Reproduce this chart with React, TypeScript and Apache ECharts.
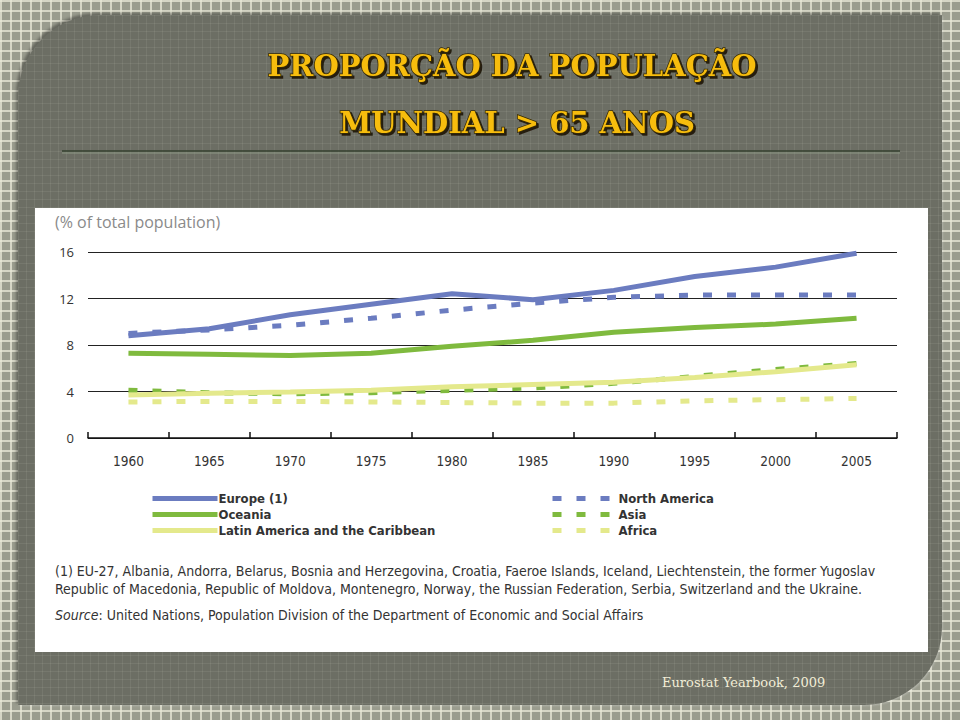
import React, { useEffect, useRef } from "react";
import * as echarts from "echarts";

const years = ["1960", "1965", "1970", "1975", "1980", "1985", "1990", "1995", "2000", "2005"];
const europe = [8.8, 9.4, 10.6, 11.5, 12.4, 11.9, 12.7, 13.9, 14.7, 15.9];
const northAmerica = [9.0, 9.3, 9.7, 10.3, 11.0, 11.6, 12.1, 12.3, 12.3, 12.3];
const oceania = [7.3, 7.2, 7.1, 7.3, 7.9, 8.4, 9.1, 9.5, 9.8, 10.3];
const asia = [4.1, 3.9, 3.8, 3.9, 4.1, 4.3, 4.7, 5.3, 5.9, 6.4];
const latinAmerica = [3.7, 3.85, 3.95, 4.1, 4.4, 4.6, 4.8, 5.2, 5.7, 6.3];
const africa = [3.1, 3.15, 3.15, 3.1, 3.05, 3.0, 3.0, 3.2, 3.3, 3.4];

const BLUE = "#6b7cc0";
const GREEN = "#7fba3e";
const YELLOW = "#e4e98c";
const NARROW = "'Liberation Sans Narrow', 'DejaVu Sans Condensed', 'DejaVu Sans', sans-serif";
const DASH = [9, 15];

export default function App() {
  const ref = useRef<HTMLDivElement>(null);
  useEffect(() => {
    if (!ref.current) return;
    const chart = echarts.init(ref.current, null, { renderer: "svg" });
    const line = (name: string, data: number[], color: string, dashed: boolean) => ({
      name,
      type: "line",
      data,
      symbol: "none",
      smooth: false,
      lineStyle: { color, width: 5, type: dashed ? DASH : "solid", cap: "butt" },
      itemStyle: { color },
    });
    const legendBase = {
      orient: "vertical",
      top: 492,
      itemWidth: 65,
      itemHeight: 13,
      itemGap: 3,
      padding: 0,
      itemStyle: { opacity: 0, borderWidth: 0 },
      lineStyle: { width: 5 },
      textStyle: { color: "#333", fontSize: 13, fontWeight: "bold", fontFamily: NARROW, padding: [0, 0, 0, -4] },
    };
    chart.setOption({
      animation: false,
      backgroundColor: "transparent",
      grid: { left: 88, right: 63, top: 252, bottom: 282 },
      xAxis: {
        type: "category",
        data: years,
        boundaryGap: true,
        axisLine: { lineStyle: { color: "#111", width: 1.5 } },
        axisTick: { show: true, inside: true, length: 6, lineStyle: { color: "#111", width: 1.5 } },
        axisLabel: { color: "#333", fontSize: 13.5, margin: 16, fontFamily: NARROW },
      },
      yAxis: {
        type: "value",
        min: 0,
        max: 16,
        interval: 4,
        axisLine: { show: false },
        axisTick: { show: false },
        axisLabel: { color: "#333", fontSize: 13, margin: 14, fontFamily: "'Open Sans', sans-serif" },
        splitLine: { lineStyle: { color: "#222", width: 1.2 } },
      },
      legend: [
        { ...legendBase, left: 150, data: ["Europe (1)", "Oceania", "Latin America and the Caribbean"] },
        { ...legendBase, left: 550, data: ["North America", "Asia", "Africa"] },
      ],
      series: [
        line("Africa", africa, YELLOW, true),
        line("Asia", asia, GREEN, true),
        line("Latin America and the Caribbean", latinAmerica, YELLOW, false),
        line("Oceania", oceania, GREEN, false),
        line("Europe (1)", europe, BLUE, false),
        line("North America", northAmerica, BLUE, true),
      ],
      graphic: [
        {
          type: "rect",
          z: -10,
          shape: { x: 35, y: 208, width: 893, height: 444 },
          style: { fill: "#ffffff" },
        },
        {
          type: "line",
          shape: { x1: 62, y1: 151, x2: 900, y2: 151 },
          style: { stroke: "#34402f", lineWidth: 1.5 },
        },
        {
          type: "line",
          shape: { x1: 62, y1: 153, x2: 900, y2: 153 },
          style: { stroke: "#8c9884", lineWidth: 1 },
        },
        {
          type: "text",
          x: 512,
          y: 66,
          style: {
            text: "PROPORÇÃO DA POPULAÇÃO",
            align: "center",
            verticalAlign: "middle",
            fontFamily: "'DejaVu Serif', serif",
            fontWeight: "bold",
            fontSize: 29,
            fill: "#f7bd0a",
            stroke: "#3a2c05",
            lineWidth: 1.5,
            textShadowColor: "rgba(20,15,0,0.85)",
            textShadowOffsetX: 2,
            textShadowOffsetY: 2,
            textShadowBlur: 1,
          },
        },
        {
          type: "text",
          x: 517,
          y: 123,
          style: {
            text: "MUNDIAL > 65 ANOS",
            align: "center",
            verticalAlign: "middle",
            fontFamily: "'DejaVu Serif', serif",
            fontWeight: "bold",
            fontSize: 29,
            fill: "#f7bd0a",
            stroke: "#3a2c05",
            lineWidth: 1.5,
            textShadowColor: "rgba(20,15,0,0.85)",
            textShadowOffsetX: 2,
            textShadowOffsetY: 2,
            textShadowBlur: 1,
          },
        },
        {
          type: "text",
          x: 55,
          y: 222,
          style: {
            text: "(% of total population)",
            verticalAlign: "middle",
            fontFamily: "'Open Sans', sans-serif",
            fontSize: 16,
            fill: "#8a8a8a",
          },
        },
        {
          type: "text",
          x: 55,
          y: 571,
          style: {
            text: "(1) EU-27, Albania, Andorra, Belarus, Bosnia and Herzegovina, Croatia, Faeroe Islands, Iceland, Liechtenstein, the former Yugoslav",
            verticalAlign: "middle",
            fontFamily: NARROW,
            fontSize: 14,
            fill: "#333",
          },
        },
        {
          type: "text",
          x: 55,
          y: 589,
          style: {
            text: "Republic of Macedonia, Republic of Moldova, Montenegro, Norway, the Russian Federation, Serbia, Switzerland and the Ukraine.",
            verticalAlign: "middle",
            fontFamily: NARROW,
            fontSize: 14,
            fill: "#333",
          },
        },
        {
          type: "text",
          x: 55,
          y: 615,
          style: {
            text: "{i|Source}: United Nations, Population Division of the Department of Economic and Social Affairs",
            verticalAlign: "middle",
            fontFamily: NARROW,
            fontSize: 14,
            fill: "#333",
            rich: { i: { fontStyle: "italic", fontFamily: NARROW, fontSize: 14, fill: "#333" } },
          },
        },
        {
          type: "text",
          x: 662,
          y: 682,
          style: {
            text: "Eurostat Yearbook, 2009",
            verticalAlign: "middle",
            fontFamily: "'DejaVu Serif', serif",
            fontSize: 13,
            fill: "#f1edd6",
            textShadowColor: "rgba(0,0,0,0.9)",
            textShadowOffsetX: 1,
            textShadowOffsetY: 1,
          },
        },
      ],
    });
    return () => chart.dispose();
  }, []);

  const outer: React.CSSProperties = {
    position: "absolute",
    left: 0,
    top: 0,
    width: 960,
    height: 720,
    backgroundColor: "#9a9c8e",
    backgroundImage:
      "linear-gradient(to right, rgba(232,232,215,0.75) 2px, transparent 2px), linear-gradient(to bottom, rgba(232,232,215,0.75) 2px, transparent 2px)",
    backgroundSize: "10px 10px",
    overflow: "hidden",
  };
  const panel: React.CSSProperties = {
    position: "absolute",
    left: 18,
    top: 15,
    width: 924,
    height: 690,
    borderRadius: "82px 0 78px 0",
    backgroundColor: "#6c6e64",
    backgroundImage:
      "linear-gradient(to right, rgba(255,255,240,0.07) 1px, transparent 1px), linear-gradient(to bottom, rgba(255,255,240,0.07) 1px, transparent 1px)",
    backgroundSize: "8px 8px",
    boxShadow: "-2px -2px 3px rgba(0,0,0,0.35), 1px 1px 2px rgba(255,255,255,0.25)",
  };
  return (
    <div style={outer}>
      <div style={panel} />
      <div ref={ref} style={{ position: "absolute", left: 0, top: 0, width: 960, height: 720 }} />
    </div>
  );
}
